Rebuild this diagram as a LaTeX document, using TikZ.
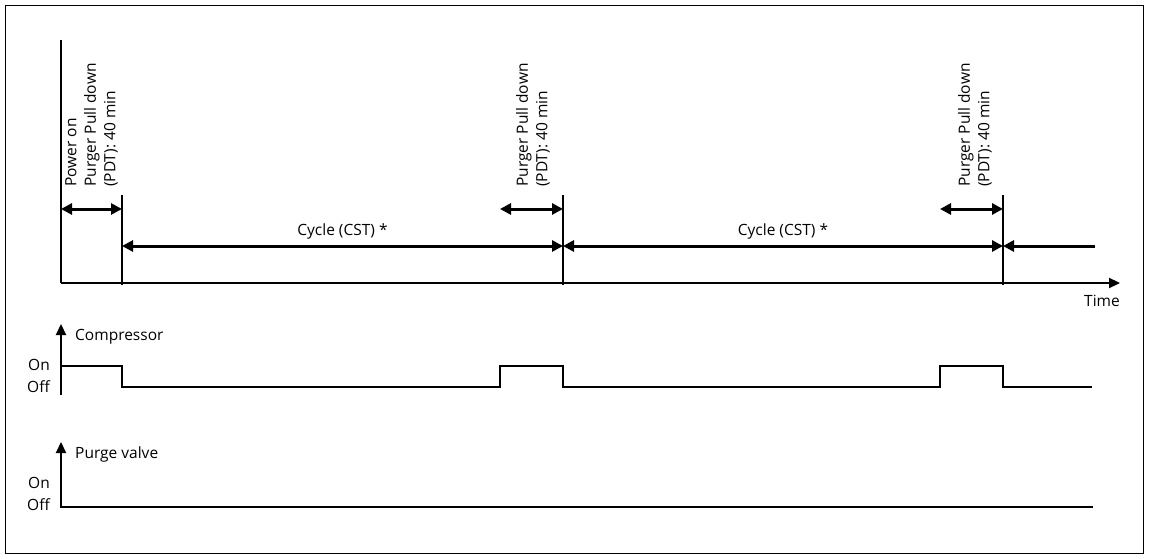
\documentclass[tikz,border=0pt]{standalone}
\usepackage{fontspec}
\setmainfont{Open Sans}
\usetikzlibrary{arrows.meta}
\begin{document}
\begin{tikzpicture}[x=1pt,y=-1pt,
  ax/.style={line width=2.2pt,-{Triangle[length=11pt,width=10pt]}},
  dim/.style={line width=3pt,{Triangle[length=11pt,width=11pt]}-{Triangle[length=11pt,width=11pt]}},
  tick/.style={line width=1.4pt},
  sig/.style={line width=1.1pt},
  lbl/.style={font=\fontsize{15.5}{18}\selectfont,inner sep=0pt},
  rl/.style={lbl,font=\fontsize{15.5}{19.5}\selectfont,rotate=90,anchor=south west,align=left}]
\useasboundingbox (0,0) rectangle (1149,559);
\draw[line width=0.8pt] (5,5) rectangle (1143,553);
% timeline
\coordinate (o) at (61,283);
\coordinate (top) at (61,40);
\coordinate (tend) at (1120,283);
\draw[line width=2.2pt] (top) -- (o);
\draw[ax] (o) -- (tend);
\node[lbl] (time) at (1102,301) {Time};
\foreach \n/\x in {a/122,b/563,c/1003}{
  \coordinate (\n t) at (\x,195); \coordinate (\n b) at (\x,285);
  \draw[tick] (\n t) -- (\n b);}
\coordinate (p0) at (61,209); \coordinate (p1) at (122,209);
\coordinate (q0) at (500,209); \coordinate (q1) at (563,209);
\coordinate (r0) at (940,209); \coordinate (r1) at (1003,209);
\draw[dim] (p0) -- (p1); \draw[dim] (q0) -- (q1); \draw[dim] (r0) -- (r1);
\coordinate (c0) at (122,246); \coordinate (c1) at (563,246);
\coordinate (c2) at (1003,246); \coordinate (c3) at (1095,246);
\draw[dim] (c0) -- (c1) node[midway,lbl,above=5pt] {Cycle (CST) *};
\draw[dim] (c1) -- (c2) node[midway,lbl,above=5pt] {Cycle (CST) *};
\draw[line width=3pt,{Triangle[length=11pt,width=11pt]}-] (c2) -- (c3);
\node[rl] (l1) at (118,187) {Power on\\Purger Pull down\\(PDT): 40 min};
\node[rl] (l2) at (550,187) {Purger Pull down\\(PDT): 40 min};
\node[rl] (l3) at (992,187) {Purger Pull down\\(PDT): 40 min};
% compressor
\coordinate (cb) at (61,395); \coordinate (ct) at (61,324);
\draw[ax] (cb) -- (ct);
\node[lbl,anchor=west] (cl) at (75,337) {Compressor};
\node[lbl,anchor=east] (con) at (50,365) {On};
\node[lbl,anchor=east] (coff) at (50,387) {Off};
\draw[sig] (61,366) -- (122,366) -- (122,387) -- (500,387) -- (500,366) -- (563,366) -- (563,387) -- (940,387) -- (940,366) -- (1003,366) -- (1003,387) -- (1092,387);
% purge valve
\coordinate (vb) at (61,508); \coordinate (vt) at (61,442);
\draw[ax] (vb) -- (vt);
\node[lbl,anchor=west] (vl) at (75,454) {Purge valve};
\node[lbl,anchor=east] (von) at (50,483) {On};
\node[lbl,anchor=east] (voff) at (50,505) {Off};
\draw[sig] (61,507) -- (1093,507);
\end{tikzpicture}
\end{document}
